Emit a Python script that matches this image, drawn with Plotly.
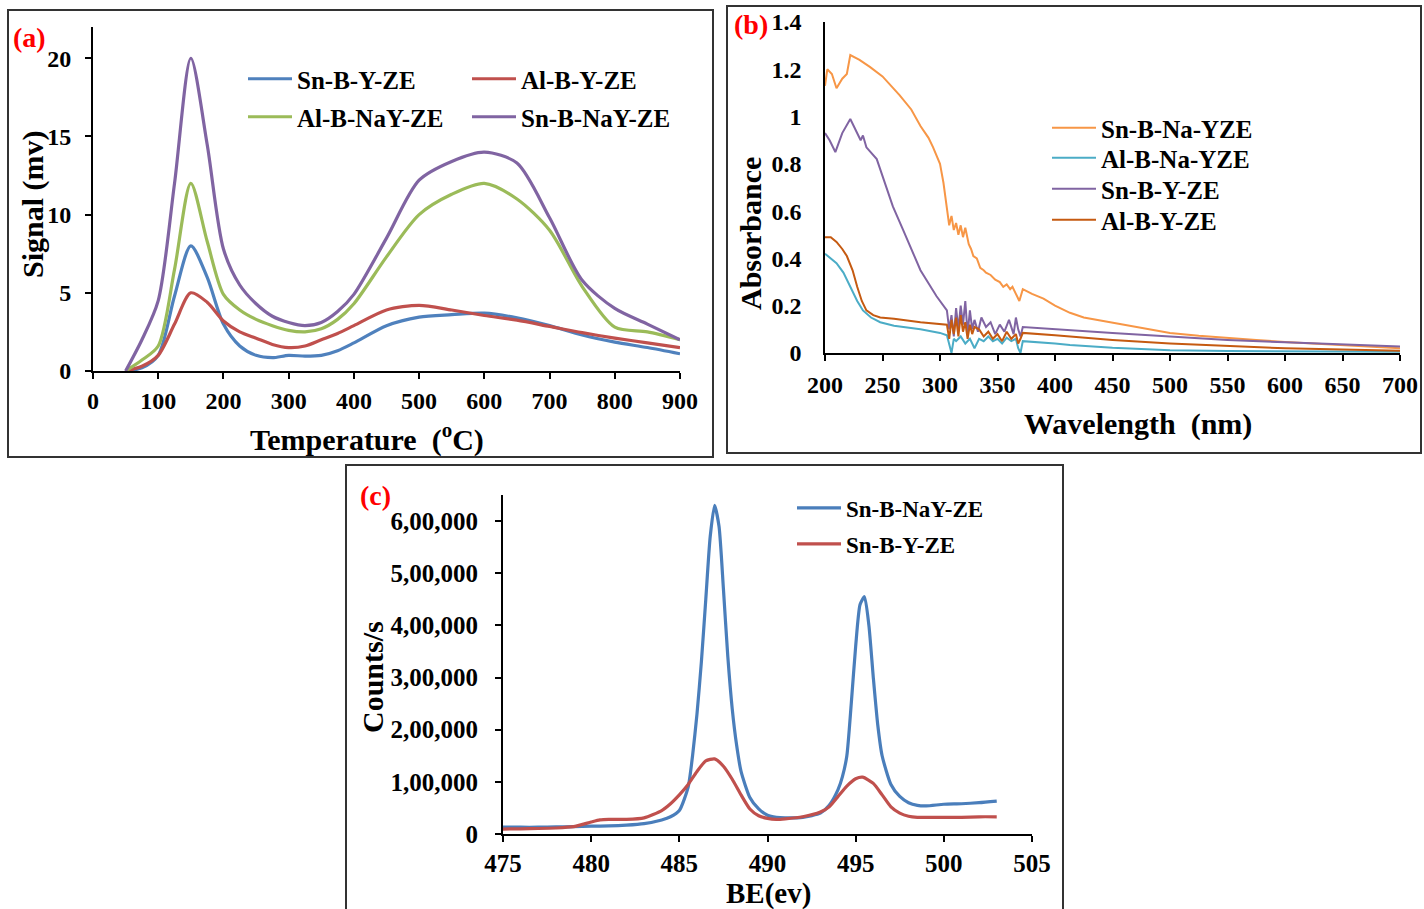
import plotly.graph_objects as go

W, H = 1424, 909


def fx(p):
    return p / W


def fy(p):
    return 1 - p / H


FONT = "Liberation Serif"

# ---------------- (a) TPD data ----------------
tpd_temp = [50, 75, 100, 125, 150, 175, 200, 225, 250, 275, 300, 325, 350, 375, 400,
            450, 500, 550, 600, 650, 700, 750, 800, 850, 900]
tpd_sn_b_y = [0, 0.2, 1.0, 4.8, 8.0, 6.0, 3.0, 1.6, 1.0, 0.85, 1.0, 0.95, 1.0, 1.3, 1.8,
              2.9, 3.45, 3.6, 3.7, 3.4, 2.9, 2.3, 1.85, 1.5, 1.1]
tpd_al_b_y = [0, 0.3, 1.0, 3.0, 5.0, 4.4, 3.2, 2.5, 2.1, 1.7, 1.5, 1.6, 2.0, 2.4, 2.9,
              3.9, 4.2, 3.9, 3.55, 3.25, 2.85, 2.45, 2.1, 1.8, 1.5]
tpd_al_b_nay = [0, 0.7, 1.6, 6.5, 12.0, 8.3, 4.9, 3.9, 3.3, 2.9, 2.6, 2.5, 2.7, 3.3, 4.3,
                7.3, 10.0, 11.3, 12.0, 11.0, 9.0, 5.4, 2.8, 2.5, 2.0]
tpd_sn_b_nay = [0, 2.0, 4.5, 12.0, 20.0, 14.5, 7.8, 5.5, 4.3, 3.5, 3.1, 2.9, 3.1, 3.8, 4.9,
                8.5, 12.2, 13.4, 14.0, 13.3, 9.8, 5.8, 4.0, 3.0, 2.0]

# ---------------- (b) UV-Vis data ----------------
uv_wl_sn_na = [200, 202, 206, 210, 215, 219, 222, 230, 239, 250, 265, 275, 283, 290, 294,
               300, 303, 306, 308, 310, 312, 314, 316, 318, 320, 322, 325, 327, 329, 332,
               335, 338, 340, 344, 348, 352, 355, 358, 361, 363, 366, 369, 372, 380, 390,
               400, 413, 425, 448, 475, 500, 525, 550, 575, 600, 650, 700]
uv_sn_na = [1.13, 1.20, 1.18, 1.12, 1.16, 1.18, 1.26, 1.24, 1.21, 1.17, 1.09, 1.03, 0.96,
            0.91, 0.87, 0.80, 0.72, 0.62, 0.54, 0.58, 0.52, 0.55, 0.50, 0.54, 0.49, 0.53,
            0.46, 0.44, 0.41, 0.40, 0.36, 0.35, 0.34, 0.33, 0.31, 0.30, 0.28, 0.29, 0.27,
            0.28, 0.25, 0.22, 0.27, 0.25, 0.23, 0.20, 0.17, 0.15, 0.13, 0.105, 0.085,
            0.073, 0.063, 0.055, 0.047, 0.034, 0.02]

uv_wl_al_na = [200, 205, 210, 216, 222, 228, 233, 240, 248, 260, 283, 300, 306, 308, 310,
               312, 314, 318, 322, 326, 330, 334, 338, 342, 346, 350, 354, 358, 362, 366,
               368, 370, 372, 400, 413, 450, 500, 550, 600, 650, 700]
uv_al_na = [0.42, 0.40, 0.38, 0.34, 0.28, 0.22, 0.18, 0.15, 0.13, 0.115, 0.10, 0.085,
            0.075, 0.04, 0.0, 0.06, 0.05, 0.07, 0.04, 0.06, 0.02, 0.06, 0.05, 0.07, 0.05,
            0.06, 0.04, 0.065, 0.05, 0.06, 0.02, 0.0, 0.05, 0.04, 0.034, 0.022, 0.012,
            0.008, 0.006, 0.005, 0.005]

uv_wl_sn_y = [200, 204, 209, 215, 222, 228, 231, 233, 236, 245, 259, 268, 283, 297, 306,
              308, 310, 312, 314, 316, 318, 320, 322, 324, 326, 328, 330, 333, 336, 340,
              344, 348, 352, 356, 360, 364, 366, 368, 370, 372, 400, 450, 500, 550, 600,
              650, 700]
uv_sn_y = [0.93, 0.90, 0.85, 0.93, 0.99, 0.93, 0.90, 0.92, 0.87, 0.82, 0.62, 0.52, 0.35,
           0.24, 0.18, 0.10, 0.16, 0.07, 0.19, 0.10, 0.20, 0.12, 0.22, 0.08, 0.18, 0.10,
           0.14, 0.09, 0.15, 0.11, 0.13, 0.08, 0.12, 0.09, 0.14, 0.08, 0.15, 0.10, 0.07,
           0.11, 0.10, 0.085, 0.07, 0.055, 0.045, 0.035, 0.027]

uv_wl_al_y = [200, 205, 210, 215, 219, 224, 228, 232, 236, 242, 248, 260, 283, 306, 308,
              310, 312, 314, 316, 318, 320, 322, 324, 326, 328, 330, 334, 338, 342, 346,
              350, 354, 358, 362, 366, 368, 370, 372, 400, 413, 450, 500, 550, 600, 650,
              700]
uv_al_y = [0.49, 0.49, 0.47, 0.44, 0.41, 0.35, 0.28, 0.22, 0.18, 0.16, 0.15, 0.145, 0.13,
           0.12, 0.06, 0.14, 0.08, 0.15, 0.07, 0.16, 0.09, 0.13, 0.06, 0.12, 0.08, 0.11,
           0.10, 0.07, 0.09, 0.06, 0.08, 0.05, 0.09, 0.06, 0.08, 0.04, 0.06, 0.085, 0.075,
           0.07, 0.055, 0.04, 0.03, 0.02, 0.015, 0.01]

# ---------------- (c) XPS data ----------------
xps_be_nay = [475, 476, 477, 478, 479, 480, 481, 482, 483, 484, 484.5, 485, 485.5, 485.75,
              486, 486.25, 486.5, 486.75, 487, 487.25, 487.5, 487.75, 488, 488.25, 488.5,
              489, 489.5, 490, 490.5, 491, 492, 493, 493.5, 494, 494.25, 494.5, 494.75, 495,
              495.25, 495.5, 495.75, 496, 496.25, 496.5, 497, 497.5, 498, 498.5, 499, 500,
              501, 502, 503]
xps_nay = [13000, 13000, 13000, 13500, 14000, 15000, 15500, 17000, 20000, 27000, 33000,
           45000, 90000, 150000, 230000, 330000, 450000, 570000, 630000, 590000, 470000,
           340000, 240000, 170000, 120000, 70000, 48000, 36000, 32000, 31000, 32000, 40000,
           55000, 85000, 110000, 150000, 250000, 360000, 440000, 455000, 400000, 300000,
           210000, 150000, 95000, 72000, 60000, 55000, 54000, 57000, 58000, 60000, 63000]

xps_be_y = [475, 476, 477, 478, 479, 480, 480.5, 481, 482, 483, 484, 484.5, 485, 485.5, 486,
            486.5, 487, 487.5, 488, 488.5, 489, 489.5, 490, 490.5, 491, 492, 493, 493.5, 494,
            494.5, 495, 495.4, 496, 496.5, 497, 497.5, 498, 498.5, 499, 500, 501, 502, 503]
xps_y = [9500, 10000, 10500, 11500, 14000, 23000, 27000, 28000, 28000, 31000, 45000, 58000,
         75000, 95000, 120000, 140000, 144000, 130000, 105000, 75000, 48000, 35000, 30000,
         28000, 29000, 33000, 42000, 52000, 72000, 92000, 106000, 109000, 97000, 75000,
         52000, 40000, 34000, 32000, 32000, 32000, 32000, 33000, 33000]

xps_tickvals = [0, 100000, 200000, 300000, 400000, 500000, 600000]
xps_ticktext = ["0", "1,00,000", "2,00,000", "3,00,000", "4,00,000", "5,00,000", "6,00,000"]

fig = go.Figure()

# panel (a)
fig.add_trace(go.Scatter(x=tpd_temp, y=tpd_sn_b_y, name="Sn-B-Y-ZE", mode="lines",
                         line=dict(color="#4F81BD", width=3.2, shape="spline", smoothing=0.8),
                         xaxis="x", yaxis="y", legend="legend"))
fig.add_trace(go.Scatter(x=tpd_temp, y=tpd_al_b_y, name="Al-B-Y-ZE", mode="lines",
                         line=dict(color="#C0504D", width=3.2, shape="spline", smoothing=0.8),
                         xaxis="x", yaxis="y", legend="legend2"))
fig.add_trace(go.Scatter(x=tpd_temp, y=tpd_al_b_nay, name="Al-B-NaY-ZE", mode="lines",
                         line=dict(color="#9BBB59", width=3.2, shape="spline", smoothing=0.8),
                         xaxis="x", yaxis="y", legend="legend3"))
fig.add_trace(go.Scatter(x=tpd_temp, y=tpd_sn_b_nay, name="Sn-B-NaY-ZE", mode="lines",
                         line=dict(color="#8064A2", width=3.2, shape="spline", smoothing=0.8),
                         xaxis="x", yaxis="y", legend="legend4"))

# panel (b)
fig.add_trace(go.Scatter(x=uv_wl_sn_na, y=uv_sn_na, name="Sn-B-Na-YZE", mode="lines",
                         line=dict(color="#F79646", width=2),
                         xaxis="x2", yaxis="y2", legend="legend5"))
fig.add_trace(go.Scatter(x=uv_wl_al_na, y=uv_al_na, name="Al-B-Na-YZE", mode="lines",
                         line=dict(color="#4BACC6", width=2),
                         xaxis="x2", yaxis="y2", legend="legend6"))
fig.add_trace(go.Scatter(x=uv_wl_sn_y, y=uv_sn_y, name="Sn-B-Y-ZE", mode="lines",
                         line=dict(color="#8064A2", width=2),
                         xaxis="x2", yaxis="y2", legend="legend7"))
fig.add_trace(go.Scatter(x=uv_wl_al_y, y=uv_al_y, name="Al-B-Y-ZE", mode="lines",
                         line=dict(color="#C55A11", width=2),
                         xaxis="x2", yaxis="y2", legend="legend8"))

# panel (c)
fig.add_trace(go.Scatter(x=xps_be_nay, y=xps_nay, name="Sn-B-NaY-ZE", mode="lines",
                         line=dict(color="#4A7EBB", width=3.2, shape="spline", smoothing=0.6),
                         xaxis="x3", yaxis="y3", legend="legend9"))
fig.add_trace(go.Scatter(x=xps_be_y, y=xps_y, name="Sn-B-Y-ZE", mode="lines",
                         line=dict(color="#C0504D", width=3.2, shape="spline", smoothing=0.6),
                         xaxis="x3", yaxis="y3", legend="legend10"))


def tickfont(size):
    return dict(family=FONT, size=size, color="black", weight="bold")


def axis(domain, rng, anchor, **kw):
    d = dict(domain=domain, range=rng, anchor=anchor, showline=True, linecolor="black",
             linewidth=2, ticks="outside", ticklen=6, tickwidth=2, tickcolor="black",
             showgrid=False, zeroline=False, tickfont=tickfont(24), ticklabelstandoff=1,
             automargin=False)
    d.update(kw)
    return d


layout = dict(
    width=W, height=H, margin=dict(l=0, r=0, t=0, b=0, autoexpand=False),
    showlegend=True,
    paper_bgcolor="white", plot_bgcolor="rgba(0,0,0,0)",
    xaxis=axis([fx(93), fx(680)], [0, 900], "y", tickvals=list(range(0, 901, 100))),
    yaxis=axis([fy(371), fy(27)], [0, 22], "x", tickvals=[0, 5, 10, 15, 20],
               ticklabelstandoff=9),
    xaxis2=axis([fx(825), fx(1400)], [200, 700], "y2", tickvals=list(range(200, 701, 50)),
                ticklabelstandoff=3),
    yaxis2=axis([fy(353), fy(22)], [0, 1.4], "x2", tickvals=[0, 0.2, 0.4, 0.6, 0.8, 1, 1.2, 1.4],
                ticktext=["0", "0.2", "0.4", "0.6", "0.8", "1", "1.2", "1.4"], ticks="",
                linewidth=1.5, ticklabelstandoff=17),
    xaxis3=axis([fx(503), fx(1032)], [475, 505], "y3", tickvals=list(range(475, 506, 5)),
                tickfont=tickfont(25), ticklabelstandoff=0),
    yaxis3=axis([fy(834), fy(495)], [0, 650000], "x3", tickvals=xps_tickvals,
                ticktext=xps_ticktext, tickfont=tickfont(25), ticklabelstandoff=12),
)


def leg(line_start, yc, size):
    return dict(x=fx(line_start - 5), y=fy(yc), xanchor="left", yanchor="middle",
                bgcolor="rgba(0,0,0,0)", borderwidth=0, itemwidth=44, visible=True,
                font=dict(family=FONT, size=size, color="black", weight="bold"))


layout["legend"] = leg(248, 79, 25)
layout["legend2"] = leg(472, 79, 25)
layout["legend3"] = leg(248, 117, 25)
layout["legend4"] = leg(472, 117, 25)
layout["legend5"] = leg(1052, 128, 25)
layout["legend6"] = leg(1052, 158, 25)
layout["legend7"] = leg(1052, 189, 25)
layout["legend8"] = leg(1052, 220, 25)
layout["legend9"] = leg(797, 508, 23)
layout["legend10"] = leg(797, 544, 23)

fig.update_layout(**layout)

# panel borders
for (x0, y0, x1, y1) in [(8, 10, 713, 457), (727, 6, 1421, 453), (346, 465, 1063, 915)]:
    fig.add_shape(type="rect", xref="paper", yref="paper", x0=fx(x0), x1=fx(x1),
                  y0=fy(y1), y1=fy(y0), line=dict(color="#333333", width=2),
                  fillcolor="rgba(0,0,0,0)", layer="below")


def ann(text, xp, yp, size=30, angle=0, color="black"):
    fig.add_annotation(text=text, x=fx(xp), y=fy(yp), xref="paper", yref="paper",
                       showarrow=False, textangle=angle, xanchor="center", yanchor="middle",
                       font=dict(family=FONT, size=size, color=color, weight="bold"))


ann("Signal (mv)", 33, 204, angle=-90)
ann("Temperature  (<sup>o</sup>C)", 367, 437)
ann("Absorbance", 750, 234, angle=-90)
ann("Wavelength  (nm)", 1138, 424)
ann("Counts/s", 372, 677, angle=-90)
ann("BE(ev)", 768, 893, size=29)
ann("(a)", 29, 37, size=28, color="red")
ann("(b)", 751, 25, size=28, color="red")
ann("(c)", 376, 495, size=28, color="red")

fig.write_html(
    "out.html",
    config={"displayModeBar": False},
    post_script="document.body.style.margin='0';document.body.style.overflow='hidden';",
)
